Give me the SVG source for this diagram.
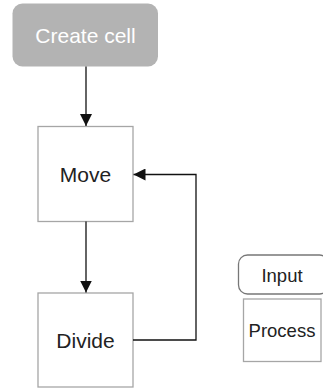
<svg xmlns="http://www.w3.org/2000/svg" width="323" height="388" viewBox="0 0 323 388">
<style>
.box{fill:#fff;stroke:#a6a6a6;stroke-width:1.3}
.lbl{font-family:"Liberation Sans",Arial,sans-serif;font-size:21px;fill:#222;text-anchor:middle;dominant-baseline:central}
.leg{font-size:18.5px}
.edge{fill:none;stroke:#111;stroke-width:1.3}
</style>
<defs>
<marker id="ah" viewBox="0 0 12 12" refX="12" refY="6" markerWidth="12" markerHeight="12" markerUnits="userSpaceOnUse" orient="auto">
<path d="M0,0 L12,6 L0,12 Z" fill="#111"/>
</marker>
</defs>
<g id="create">
<rect x="12.5" y="3.5" width="145.5" height="63" rx="10" fill="#b3b3b3"/>
<text class="lbl" x="85.5" y="35" style="fill:#fff">Create cell</text>
</g>
<g id="move">
<rect class="box" x="38" y="126.5" width="95" height="95"/>
<text class="lbl" x="85.5" y="174">Move</text>
</g>
<g id="divide">
<rect class="box" x="38" y="293" width="95" height="94"/>
<text class="lbl" x="85.5" y="340">Divide</text>
</g>
<g id="legend-input">
<rect class="box" x="238.5" y="255" width="90" height="39" rx="9" style="stroke:#777"/>
<text class="lbl leg" x="282" y="275">Input</text>
</g>
<g id="legend-process">
<rect class="box" x="243.5" y="299" width="77.5" height="62.5"/>
<text class="lbl leg" x="282" y="330.5">Process</text>
</g>
<g id="connectors">
<path class="edge" d="M86,66.5 V126" marker-end="url(#ah)"/>
<path class="edge" d="M86,221.5 V292.5" marker-end="url(#ah)"/>
<path class="edge" d="M133,340 H196 V174.5 H133.5" marker-end="url(#ah)"/>
</g>
</svg>
